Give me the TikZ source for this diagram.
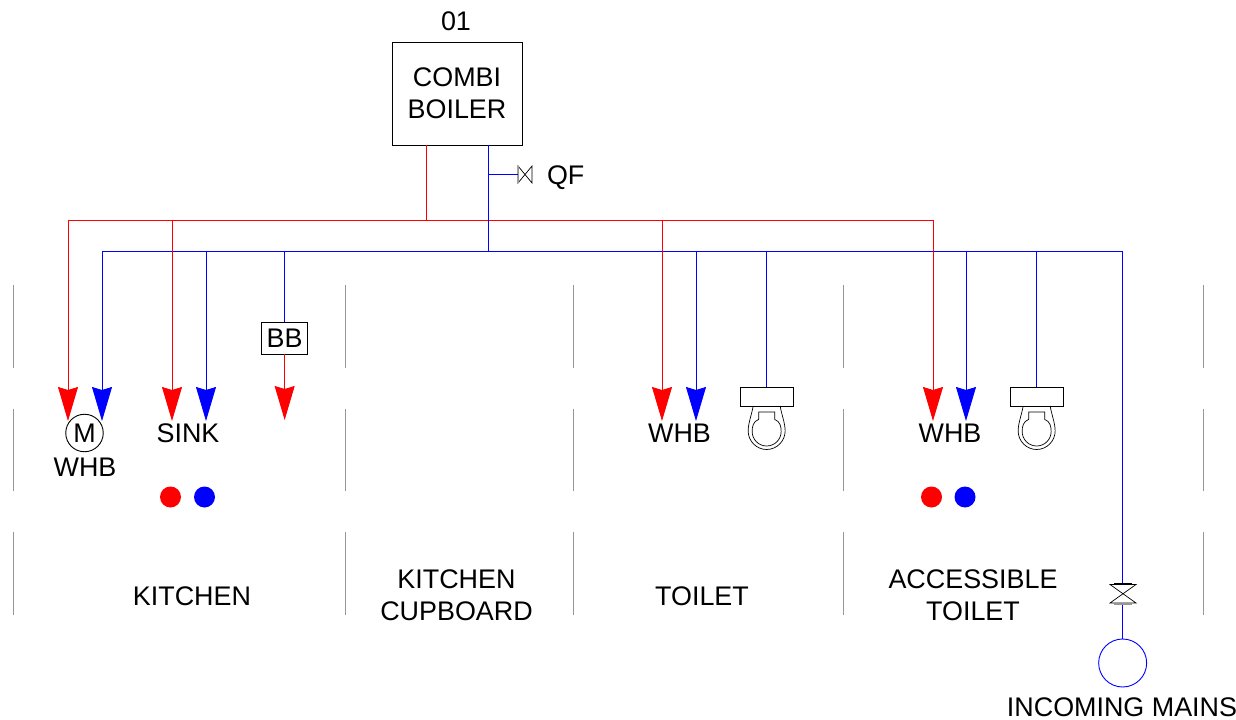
\documentclass[tikz,border=0pt]{standalone}
\usepackage{fontspec}
\setmainfont{Liberation Sans}
\usetikzlibrary{arrows.meta}
\definecolor{pipered}{RGB}{255,0,0}
\definecolor{pipeblue}{RGB}{0,0,255}
\definecolor{partgray}{RGB}{150,150,150}
\tikzset{
  lbl/.style={inner sep=0pt,outer sep=0pt,align=center,font=\fontsize{27pt}{32.1pt}\selectfont},
  hot/.style={draw=pipered,line width=0.95bp},
  cold/.style={draw=pipeblue,line width=0.95bp},
  coldhead/.style={draw=pipeblue,line width=0.9bp},
  tiphot/.style={hot,-{Stealth[length=34bp,width=20bp,inset=3bp,color=pipered]}},
  tipcold/.style={cold,-{Stealth[length=34bp,width=20bp,inset=3bp,color=pipeblue]}},
  partline/.style={draw=partgray,line width=1bp},
  blk/.style={draw=black,line width=0.9bp},
  thinblk/.style={draw=black,line width=0.7bp},
  dot/.style={circle,inner sep=0pt,minimum size=21bp},
}
\begin{document}
\begin{tikzpicture}[x=1bp,y=-1bp]
\useasboundingbox (0,0) rectangle (1236,720);
% partitions
\foreach \px in {13,345.6,573.6,843.6,1203}{
  \foreach \a/\b in {285/368,409/491,532/615}{
    \draw[partline] (\px,\a) -- (\px,\b);
  }
}

% boiler
\node[lbl,blk,minimum width=130bp,minimum height=103bp] (boiler) at (457,93.5) {COMBI\\BOILER};
\node[lbl] (num) at (456,21) {01};

% junction coordinates
\coordinate (hotout) at (426,145);
\coordinate (coldout) at (488,145);
\coordinate (hotmain) at (426,220);
\coordinate (coldmain) at (488,251);
\coordinate (qfj) at (488,174.5);
\coordinate (hotl) at (68,220);
\coordinate (hotr) at (933,220);
\coordinate (coldl) at (102,251);
\coordinate (coldr) at (1122.65,251);

\draw[hot] (hotout) -- (hotmain);
\draw[hot] (hotl) -- (hotr);
\draw[coldhead] (coldl) -- (coldr);
\draw[cold] (coldout) -- (coldmain);

% QF valve
\coordinate (qfv) at (518,174.5);
\draw[cold] (qfj) -- (qfv);
\draw[thinblk] (518,166) -- (532,183) -- (532,166) -- (518,183) -- cycle;
\draw[partgray,line width=1.2bp] (518.5,166) -- (518.5,183);
\node[lbl,anchor=base west] (qf) at (547,184.5) {QF};

% hot drops
\coordinate (h1) at (68,421);
\coordinate (h2) at (172,421);
\coordinate (h3) at (662,421);
\coordinate (h4) at (933,421);
\draw[tiphot] (hotl) -- (h1);
\draw[tiphot] (172,220) -- (h2);
\draw[tiphot] (662,220) -- (h3);
\draw[tiphot] (hotr) -- (h4);

% cold drops
\coordinate (c1) at (102,421);
\coordinate (c2) at (206,421);
\coordinate (c3) at (696,421);
\coordinate (c4) at (966,421);
\draw[tipcold] (coldl) -- (c1);
\draw[tipcold] (206,251) -- (c2);
\draw[tipcold] (696,251) -- (c3);
\draw[tipcold] (966,251) -- (c4);

% buffer
\node[lbl,blk,minimum width=46bp,minimum height=32bp] (bb) at (284.65,338) {BB};
\coordinate (bbtip) at (284.65,420);
\draw[cold] (284.65,251) -- (bb.north);
\draw[tiphot] (bb.south) -- (bbtip);

% WC 1 and 2
\foreach \nm/\cx in {a/766.65,b/1036.65}{
  \begin{scope}[shift={(\cx,0)}]
    \node[blk,minimum width=53bp,minimum height=19bp,inner sep=0pt] (cist\nm) at (0,396.5) {};
    \draw[cold] (0,251) -- (cist\nm.north);
    \draw[thinblk] (-13.5,406) .. controls (-15,415) and (-18.5,423) .. (-18.5,431)
       .. controls (-18.5,441) and (-10.2,449.5) .. (0,449.5)
       .. controls (10.2,449.5) and (18.5,441) .. (18.5,431)
       .. controls (18.5,423) and (15,415) .. (13.5,406);
    \draw[thinblk] (-8,419.4) -- (-8,412) -- (8,412) -- (8,419.4)
       .. controls (13.5,421.5) and (14.5,426.5) .. (14.5,431.5)
       .. controls (14.5,439.5) and (8,446) .. (0,446)
       .. controls (-8,446) and (-14.5,439.5) .. (-14.5,431.5)
       .. controls (-14.5,426.5) and (-13.5,421.5) .. (-8,419.4);
  \end{scope}
}

% fixtures
\node[lbl] (whb1) at (85,467) {WHB};
\node[lbl,circle,blk,minimum size=37.5bp] (m) at (84.5,433) {M};
\node[lbl] (sink) at (188,433) {SINK};
\node[lbl] (whb2) at (679.5,433) {WHB};
\node[lbl] (whb3) at (950,433) {WHB};

% dots
\node[dot,fill=pipered] (d1) at (170.5,497) {};
\node[dot,fill=pipeblue] (d2) at (204.5,497) {};
\node[dot,fill=pipered] (d3) at (931.5,497) {};
\node[dot,fill=pipeblue] (d4) at (965,497) {};

% room labels
\node[lbl] (kit) at (192,596) {KITCHEN};
\node[lbl] (cup) at (456.5,595) {KITCHEN\\CUPBOARD};
\node[lbl] (toi) at (702,596) {TOILET};
\node[lbl] (acc) at (973,595) {ACCESSIBLE\\TOILET};

% mains
\coordinate (vtop) at (1122.65,584);
\coordinate (vbot) at (1122.65,603);
\node[circle,draw=pipeblue,line width=0.9bp,minimum size=48bp,inner sep=0pt] (mains) at (1122.65,663) {};
\draw[cold] (coldr) -- (vtop);
\draw[cold] (vbot) -- (mains.north);
\draw[thinblk] (1110,584.5) -- (1136,584.5) -- (1110,603) -- (1136,603) -- cycle;
\draw[black,line width=1bp] (1114,583.5) -- (1132,583.5);
\draw[partgray,line width=1.4bp] (1114,604) -- (1132,604);
\node[lbl] (inc) at (1122,707) {INCOMING MAINS};
\end{tikzpicture}
\end{document}
